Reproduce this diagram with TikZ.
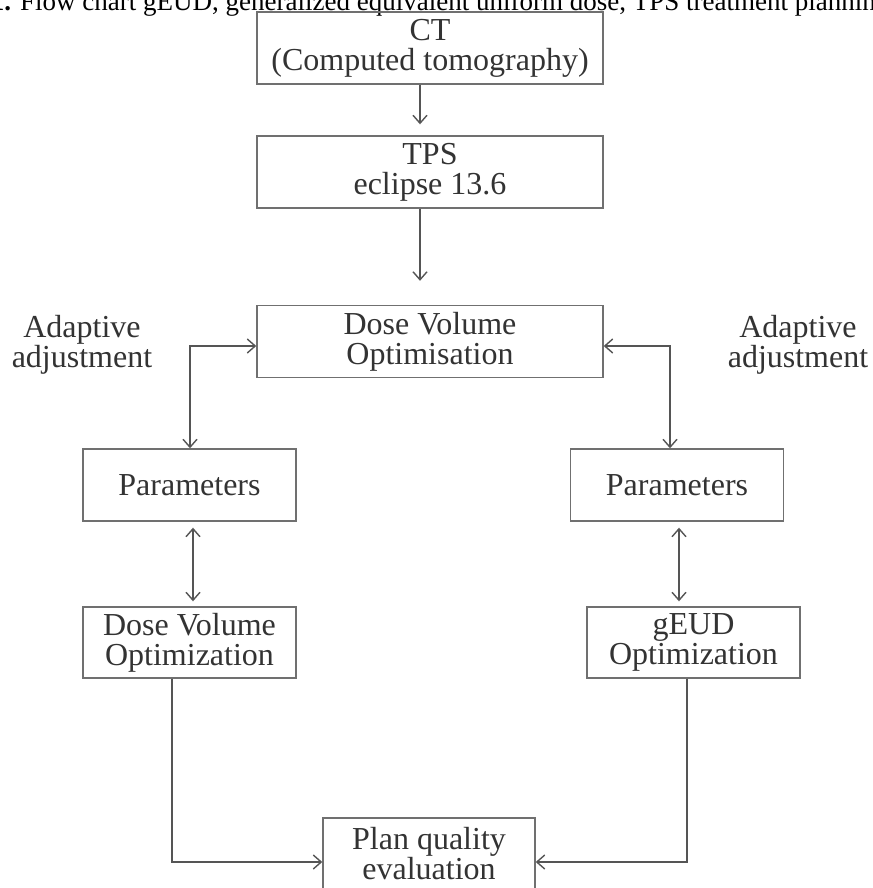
\documentclass[tikz,border=0pt]{standalone}
\usepackage{fontspec}
\setmainfont{Liberation Serif}
\usetikzlibrary{arrows.meta}
\definecolor{boxgray}{HTML}{707070}
\definecolor{linegray}{HTML}{555555}
\definecolor{textgray}{HTML}{333333}
\begin{document}
\begin{tikzpicture}[x=1pt,y=-1pt,
  boxbase/.style={draw=boxgray, line width=1.4pt, minimum height=72pt, align=center, inner sep=0pt, text=textgray, font=\fontsize{32}{30}\selectfont},
  widebox/.style={boxbase, minimum width=346pt},
  narrowbox/.style={boxbase, minimum width=213pt},
  lbl/.style={align=center, inner sep=0pt, text=textgray, font=\fontsize{32}{30}\selectfont},
  arr/.style={draw=linegray, line width=1.4pt, -{Straight Barb[length=8pt,width=14pt]}},
  darr/.style={draw=linegray, line width=1.4pt, {Straight Barb[length=8pt,width=14pt]}-{Straight Barb[length=8pt,width=14pt]}},
]
\useasboundingbox (0,0) rectangle (872,888);
\clip (0,0) rectangle (872,888);
\fill[white] (0,0) rectangle (872,888);

\node[anchor=base west, inner sep=0pt, text=black, font=\fontsize{27}{30}\selectfont] (cap) at (20,11)
  {\llap{\textbf{Figure 1.}\hspace{9pt}}Flow chart gEUD, generalized equivalent uniform dose, TPS treatment planning};

\node[widebox] (ct) at (430,48) {CT\\(Computed tomography)};
\node[widebox] (tps) at (430,172) {TPS\\eclipse 13.6};
\node[widebox] (dvo) at (430,341.5) {Dose Volume\\Optimisation};
\node[narrowbox] (pl) at (189.5,485) {Parameters};
\node[narrowbox] (pr) at (677,485) {Parameters};
\node[narrowbox, minimum height=71pt] (dl) at (189.5,642.5) {Dose Volume\\Optimization};
\node[narrowbox, minimum height=71pt] (gr) at (693.5,642.5) {gEUD\\Optimization};
\node[narrowbox, minimum width=212pt] (pq) at (429,854) {Plan quality\\evaluation};
\node[lbl] (al) at (82,345) {Adaptive\\adjustment};
\node[lbl] (ar) at (798,345) {Adaptive\\adjustment};

\draw[arr, shorten >=11pt] ([xshift=-10pt]ct.south) -- ([xshift=-10pt]tps.north);
\draw[arr, shorten >=24pt] ([xshift=-10pt]tps.south) -- ([xshift=-10pt]dvo.north);

\draw[darr] ([xshift=0.5pt]pl.north) |- ([yshift=-4.5pt]dvo.west);
\draw[darr] ([xshift=-7pt]pr.north) |- ([yshift=-4.5pt]dvo.east);

\coordinate (plb) at ([xshift=3.5pt]pl.south);
\coordinate (prb) at ([xshift=2pt]pr.south);
\draw[darr, shorten <=6pt, shorten >=5pt] (plb) -- (plb |- dl.north);
\draw[darr, shorten <=6pt, shorten >=5pt] (prb) -- (prb |- gr.north);

\draw[arr] ([xshift=-17.5pt]dl.south) |- ([yshift=-8pt]pq.west);
\draw[arr] ([xshift=-6.5pt]gr.south) |- ([yshift=-8pt]pq.east);
\end{tikzpicture}
\end{document}
